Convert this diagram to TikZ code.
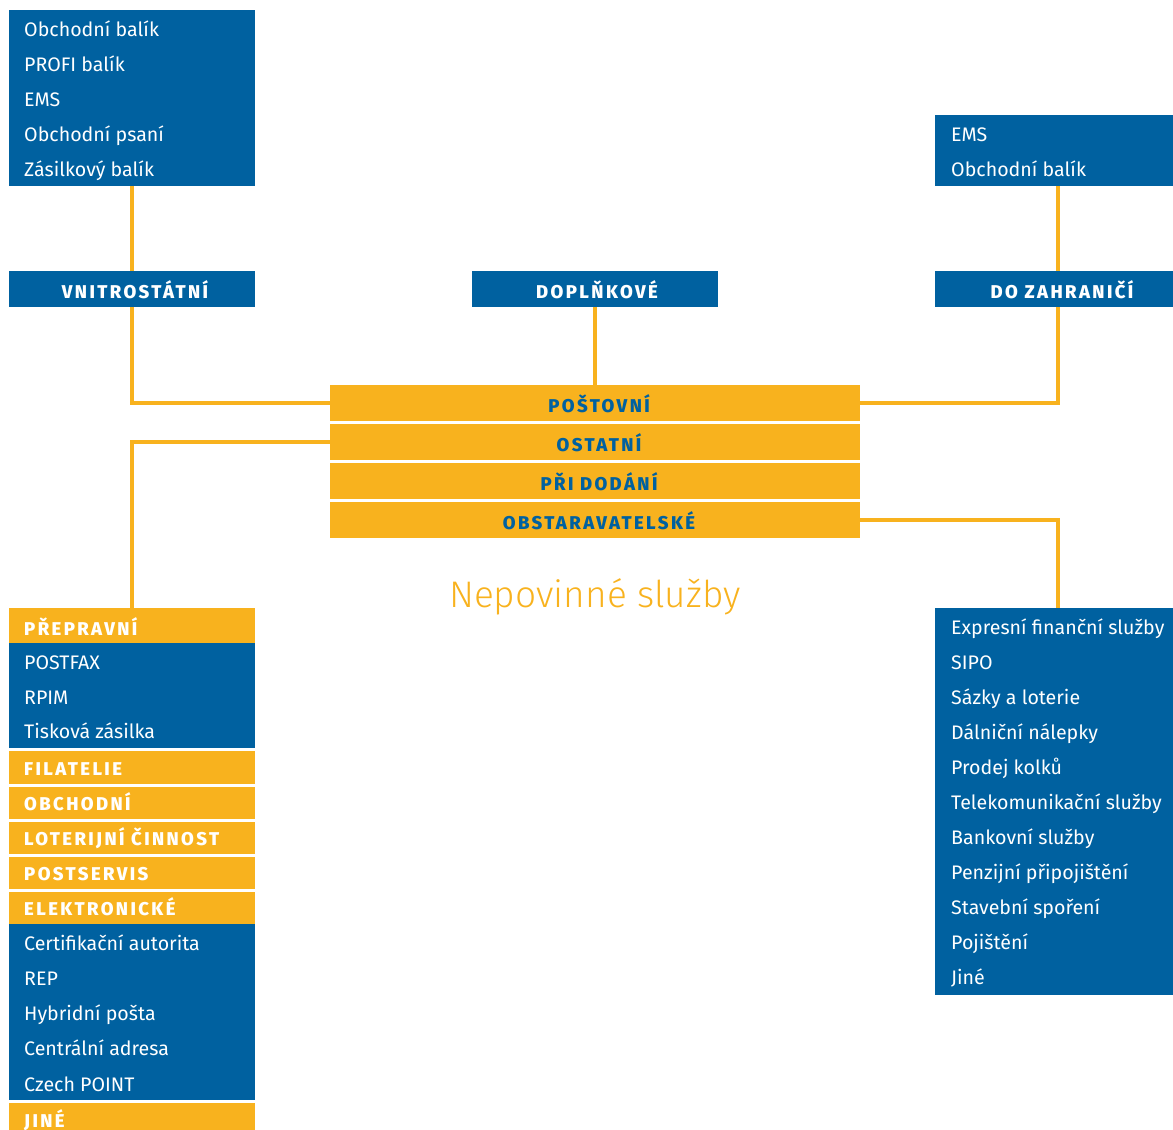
\documentclass[tikz,border=0pt]{standalone}
\usepackage{fontspec}
\setmainfont{Fira Sans}
\newfontfamily\hdfont{Fira Sans ExtraBold}[LetterSpace=13]
\newfontfamily\ltfont{Fira Sans Light}
\definecolor{blu}{RGB}{0,97,160}
\definecolor{org}{RGB}{248,178,30}
\tikzset{
  bbox/.style={fill=blu, draw=none, inner sep=0pt, anchor=north west, minimum width=246pt},
  obox/.style={fill=org, draw=none, inner sep=0pt, anchor=north west, minimum width=246pt},
  cbar/.style={fill=org, draw=none, inner sep=0pt, anchor=north west, minimum width=530pt, minimum height=36pt},
  item/.style={anchor=base west, inner sep=0pt, text=white, font=\fontsize{19.6}{22}\selectfont},
  head/.style={anchor=base, inner sep=0pt, text=white, font=\hdfont\fontsize{18.5}{20}\selectfont},
  chead/.style={anchor=base, inner sep=0pt, text=blu, font=\hdfont\fontsize{18.5}{20}\selectfont},
  ohead/.style={anchor=base west, inner sep=0pt, text=white, font=\hdfont\fontsize{18.5}{20}\selectfont},
  conn/.style={draw=org, line width=3.5pt}
}
\begin{document}
\begin{tikzpicture}[x=1pt,y=-1pt]
\useasboundingbox (0,0) rectangle (1173,1130);
% top left list
\node[bbox, minimum height=176pt] (tl) at (9,10) {};
\foreach \t [count=\i] in {Obchodní balík, PROFI balík, EMS, Obchodní psaní, Zásilkový balík}
  \node[item] (tl\i) at (24,{36.5+35*(\i-1)}) {\t};
% top right list
\node[bbox, minimum height=71pt] (tr) at (935,115) {};
\foreach \t [count=\i] in {EMS, Obchodní balík}
  \node[item] (tr\i) at (951,{141.5+35*(\i-1)}) {\t};
% category headers
\node[bbox, minimum height=36pt] (vn) at (9,271) {};
\node[head] (vnt) at (135,298) {VNITROSTÁTNÍ};
\node[bbox, minimum height=36pt] (dop) at (472,271) {};
\node[head] (dopt) at (597,298) {DOPLŇKOVÉ};
\node[bbox, minimum height=36pt] (dz) at (935,271) {};
\node[head] (dzt) at (1062,298) {DO ZAHRANIČÍ};
% central bars
\node[cbar] (post) at (330,385) {};
\node[chead] (postt) at (599,412) {POŠTOVNÍ};
\node[cbar] (ost) at (330,424) {};
\node[chead] (ostt) at (599,451) {OSTATNÍ};
\node[cbar] (pri) at (330,463) {};
\node[chead] (prit) at (599,490) {PŘI DODÁNÍ};
\node[cbar] (obs) at (330,502) {};
\node[chead] (obst) at (599,529) {OBSTARAVATELSKÉ};
% title
\node[anchor=base, inner sep=0pt, text=org, font=\ltfont\fontsize{37}{40}\selectfont] (title) at (595,607) {Nepovinné služby};
% bottom left column
\node[obox, minimum height=35pt] (pre) at (9,608) {};
\node[ohead] (pret) at (24,635.5) {PŘEPRAVNÍ};
\node[bbox, minimum height=105pt] (b1) at (9,643) {};
\foreach \t [count=\i] in {POSTFAX, RPIM, Tisková zásilka}
  \node[item] (b1\i) at (24,{669.5+34.7*(\i-1)}) {\t};
\node[obox, minimum height=33pt] (fil) at (9,751) {};
\node[ohead] (filt) at (24,775) {FILATELIE};
\node[obox, minimum height=32pt] (obc) at (9,787) {};
\node[ohead] (obct) at (24,810.5) {OBCHODNÍ};
\node[obox, minimum height=32pt] (lot) at (9,822) {};
\node[ohead] (lott) at (24,845.5) {LOTERIJNÍ ČINNOST};
\node[obox, minimum height=32pt] (pos) at (9,857) {};
\node[ohead] (post2) at (24,880.5) {POSTSERVIS};
\node[obox, minimum height=32pt] (ele) at (9,892) {};
\node[ohead] (elet) at (24,915.5) {ELEKTRONICKÉ};
\node[bbox, minimum height=176pt] (b2) at (9,924) {};
\foreach \t [count=\i] in {Certifikační autorita, REP, Hybridní pošta, Centrální adresa, Czech POINT}
  \node[item] (b2\i) at (24,{950.2+35.25*(\i-1)}) {\t};
\node[obox, minimum height=40pt] (jin) at (9,1103) {};
\node[ohead] (jint) at (24,1127) {JINÉ};
% bottom right list
\node[bbox, minimum height=387pt] (rb) at (935,608) {};
\foreach \t [count=\i] in {Expresní finanční služby, SIPO, Sázky a loterie, Dálniční nálepky, Prodej kolků, Telekomunikační služby, Bankovní služby, Penzijní připojištění, Stavební spoření, Pojištění, Jiné}
  \node[item] (rb\i) at (951,{634+35*(\i-1)}) {\t};
% connectors
\draw[conn] (tl.south) -- (vn.north);
\draw[conn] (tr.south) -- (dz.north);
\draw[conn] (dop.south) -- (post.north);
\draw[conn] (vn.south) -- (vn.south |- post.west) -- (post.west);
\draw[conn] (dz.south) -- (dz.south |- post.east) -- (post.east);
\draw[conn] (ost.west) -- (ost.west -| pre.north) -- (pre.north);
\draw[conn] (obs.east) -- (obs.east -| rb.north) -- (rb.north);
\end{tikzpicture}
\end{document}
